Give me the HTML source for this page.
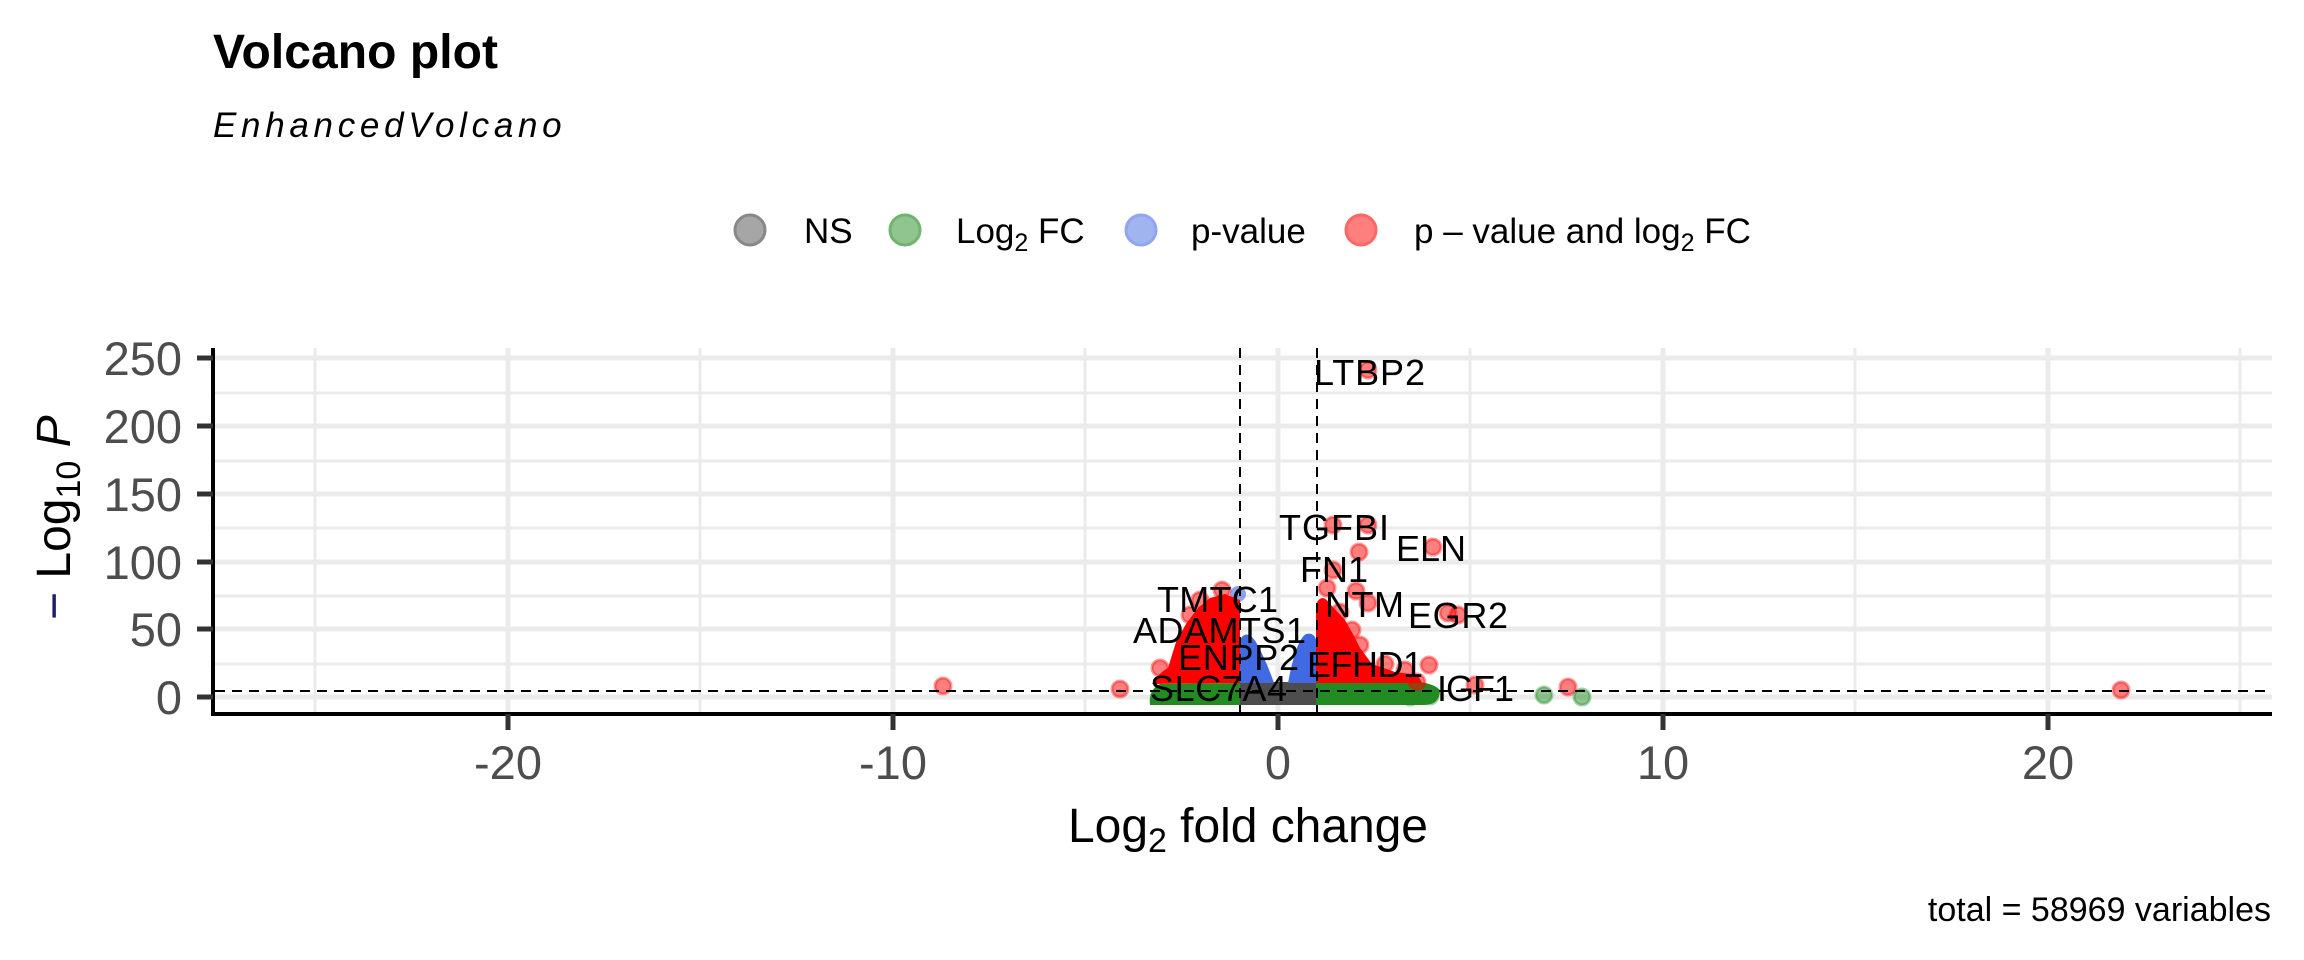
<!DOCTYPE html>
<html><head><meta charset="utf-8"><style>
html,body{margin:0;padding:0;background:#fff}
svg{display:block}
text{font-family:"Liberation Sans",Arial,sans-serif}
</style></head><body>
<svg width="2304" height="960" viewBox="0 0 2304 960" xmlns="http://www.w3.org/2000/svg">
<rect width="2304" height="960" fill="#fff"/>
<text x="213" y="68" font-size="48" font-weight="bold" textLength="285">Volcano plot</text>
<text x="213" y="137" font-size="35" font-style="italic" letter-spacing="4.7">EnhancedVolcano</text>
<g stroke-width="3">
<circle cx="750" cy="230" r="15" fill="#000" fill-opacity="0.35" stroke="#888"/>
<circle cx="905" cy="230" r="15" fill="#228B22" fill-opacity="0.5" stroke="#6fb46f"/>
<circle cx="1141" cy="230" r="15" fill="#4169E1" fill-opacity="0.5" stroke="#8fa5ee"/>
<circle cx="1361" cy="230" r="15" fill="#f00" fill-opacity="0.5" stroke="#f66"/>
</g>
<g font-size="35">
<text x="804" y="243">NS</text>
<text x="956" y="243">Log<tspan font-size="25" dy="8">2</tspan><tspan dy="-8"> FC</tspan></text>
<text x="1191" y="243">p-value</text>
<text x="1414" y="243">p – value and log<tspan font-size="25" dy="8">2</tspan><tspan dy="-8"> FC</tspan></text>
</g>
<g stroke="#ebebeb">
<g stroke-width="3">
<line x1="315" y1="348" x2="315" y2="712"/><line x1="700" y1="348" x2="700" y2="712"/><line x1="1085" y1="348" x2="1085" y2="712"/><line x1="1470" y1="348" x2="1470" y2="712"/><line x1="1855" y1="348" x2="1855" y2="712"/><line x1="2240" y1="348" x2="2240" y2="712"/>
<line x1="215" y1="664" x2="2272" y2="664"/><line x1="215" y1="596" x2="2272" y2="596"/><line x1="215" y1="528" x2="2272" y2="528"/><line x1="215" y1="461" x2="2272" y2="461"/><line x1="215" y1="393" x2="2272" y2="393"/>
</g>
<g stroke-width="5">
<line x1="508" y1="348" x2="508" y2="712"/><line x1="893" y1="348" x2="893" y2="712"/><line x1="1278" y1="348" x2="1278" y2="712"/><line x1="1663" y1="348" x2="1663" y2="712"/><line x1="2048" y1="348" x2="2048" y2="712"/>
<line x1="215" y1="697" x2="2272" y2="697"/><line x1="215" y1="629" x2="2272" y2="629"/><line x1="215" y1="562" x2="2272" y2="562"/><line x1="215" y1="494" x2="2272" y2="494"/><line x1="215" y1="426" x2="2272" y2="426"/><line x1="215" y1="358" x2="2272" y2="358"/>
</g>
</g>
<path d="M1150,705 Q1148,690 1160,684 L1240,683 L1240,705 Z" fill="#228B22"/>
<path d="M1316,683 L1400,682 Q1430,680 1440,690 Q1440,706 1420,705 L1316,705 Z" fill="#228B22"/>
<rect x="1240" y="682" width="76" height="23" fill="#4d4d4d"/>
<path d="M1240,683 L1240,640 Q1246,628 1256,642 Q1266,660 1274,683 Z" fill="#4169E1"/>
<path d="M1288,683 Q1296,640 1306,634 Q1314,632 1316,640 L1316,683 Z" fill="#4169E1"/>
<circle cx="1238" cy="594" r="8" fill="#4169E1" fill-opacity="0.6"/>
<path d="M1152,684 Q1160,672 1168,668 L1176,642 L1186,624 L1198,608 L1210,598 L1225,594 L1240,600 L1240,683 Z" fill="#f00"/>
<path d="M1316,683 L1316,604 Q1322,592 1330,604 L1345,620 L1354,636 L1360,648 L1372,664 L1395,672 L1418,675 L1422,683 Z" fill="#f00"/>
<g fill="#f00" fill-opacity="0.5" stroke="#f00" stroke-opacity="0.4" stroke-width="3">
<circle cx="1368" cy="370" r="8"/><circle cx="1333" cy="525" r="8"/><circle cx="1368" cy="525" r="8"/>
<circle cx="1433" cy="547" r="8"/><circle cx="1359" cy="552" r="8"/><circle cx="1333" cy="570" r="8"/>
<circle cx="1327" cy="588" r="8"/><circle cx="1356" cy="591" r="8"/><circle cx="1368" cy="603" r="8"/>
<circle cx="1448" cy="613" r="8"/><circle cx="1458" cy="615" r="8"/><circle cx="1429" cy="665" r="8"/>
<circle cx="1417" cy="682" r="8"/><circle cx="1475" cy="685" r="8"/><circle cx="1568" cy="687" r="8"/>
<circle cx="943" cy="686" r="8"/><circle cx="1120" cy="689" r="8"/><circle cx="2121" cy="690" r="8"/>
<circle cx="1160" cy="668" r="8"/><circle cx="1200" cy="600" r="8"/><circle cx="1222" cy="590" r="8"/><circle cx="1190" cy="615" r="8"/>
<circle cx="1340" cy="612" r="8"/><circle cx="1352" cy="630" r="8"/><circle cx="1360" cy="645" r="8"/><circle cx="1385" cy="664" r="8"/><circle cx="1405" cy="670" r="8"/>
</g>
<g fill="#228B22" fill-opacity="0.5" stroke="#228B22" stroke-opacity="0.4" stroke-width="3">
<circle cx="1544" cy="695" r="8"/><circle cx="1582" cy="697" r="8"/><circle cx="1430" cy="696" r="8"/><circle cx="1410" cy="697" r="8"/>
</g>
<g stroke="#000" stroke-width="2" stroke-dasharray="10,7" fill="none">
<line x1="1240" y1="348" x2="1240" y2="712"/>
<line x1="1317" y1="348" x2="1317" y2="712"/>
<line x1="215" y1="691" x2="2272" y2="691"/>
</g>
<g font-size="36" fill="#000">
<text x="1314" y="385" textLength="111">LTBP2</text>
<text x="1279" y="540" textLength="110">TGFBI</text>
<text x="1396" y="561" textLength="70">ELN</text>
<text x="1300" y="582" textLength="68">FN1</text>
<text x="1157" y="612" textLength="121">TMTC1</text>
<text x="1325" y="617" textLength="79">NTM</text>
<text x="1408" y="628" textLength="100">EGR2</text>
<text x="1133" y="643" textLength="173">ADAMTS1</text>
<text x="1178" y="670" textLength="121">ENPP2</text>
<text x="1307" y="677" textLength="116">EFHD1</text>
<text x="1150" y="701" textLength="137">SLC7A4</text>
<text x="1437" y="701" textLength="77">IGF1</text>
</g>
<line x1="213" y1="348" x2="213" y2="716" stroke="#000" stroke-width="4"/>
<line x1="211" y1="714" x2="2272" y2="714" stroke="#000" stroke-width="4"/>
<g stroke="#333" stroke-width="5">
<line x1="197" y1="697" x2="213" y2="697"/><line x1="197" y1="629" x2="213" y2="629"/><line x1="197" y1="562" x2="213" y2="562"/><line x1="197" y1="494" x2="213" y2="494"/><line x1="197" y1="426" x2="213" y2="426"/><line x1="197" y1="358" x2="213" y2="358"/>
<line x1="508" y1="714" x2="508" y2="730"/><line x1="893" y1="714" x2="893" y2="730"/><line x1="1278" y1="714" x2="1278" y2="730"/><line x1="1663" y1="714" x2="1663" y2="730"/><line x1="2048" y1="714" x2="2048" y2="730"/>
</g>
<g font-size="47" fill="#4d4d4d" text-anchor="end">
<text x="182" y="714">0</text><text x="182" y="646">50</text><text x="182" y="579">100</text><text x="182" y="511">150</text><text x="182" y="443">200</text><text x="182" y="375">250</text>
</g>
<g font-size="47" fill="#4d4d4d" text-anchor="middle">
<text x="508" y="779">-20</text><text x="893" y="779">-10</text><text x="1278" y="779">0</text><text x="1663" y="779">10</text><text x="2048" y="779">20</text>
</g>
<text x="1068" y="842" font-size="48" textLength="360">Log<tspan font-size="34" dy="10">2</tspan><tspan dy="-10"> fold change</tspan></text>
<text transform="translate(70,620) rotate(-90)" font-size="48"><tspan fill="#1a1a6e">− </tspan>Log<tspan font-size="34" dy="10">10</tspan><tspan dy="-10" font-style="italic"> P</tspan></text>
<text x="2271" y="921" font-size="34" text-anchor="end">total = 58969 variables</text>
</svg>
</body></html>
